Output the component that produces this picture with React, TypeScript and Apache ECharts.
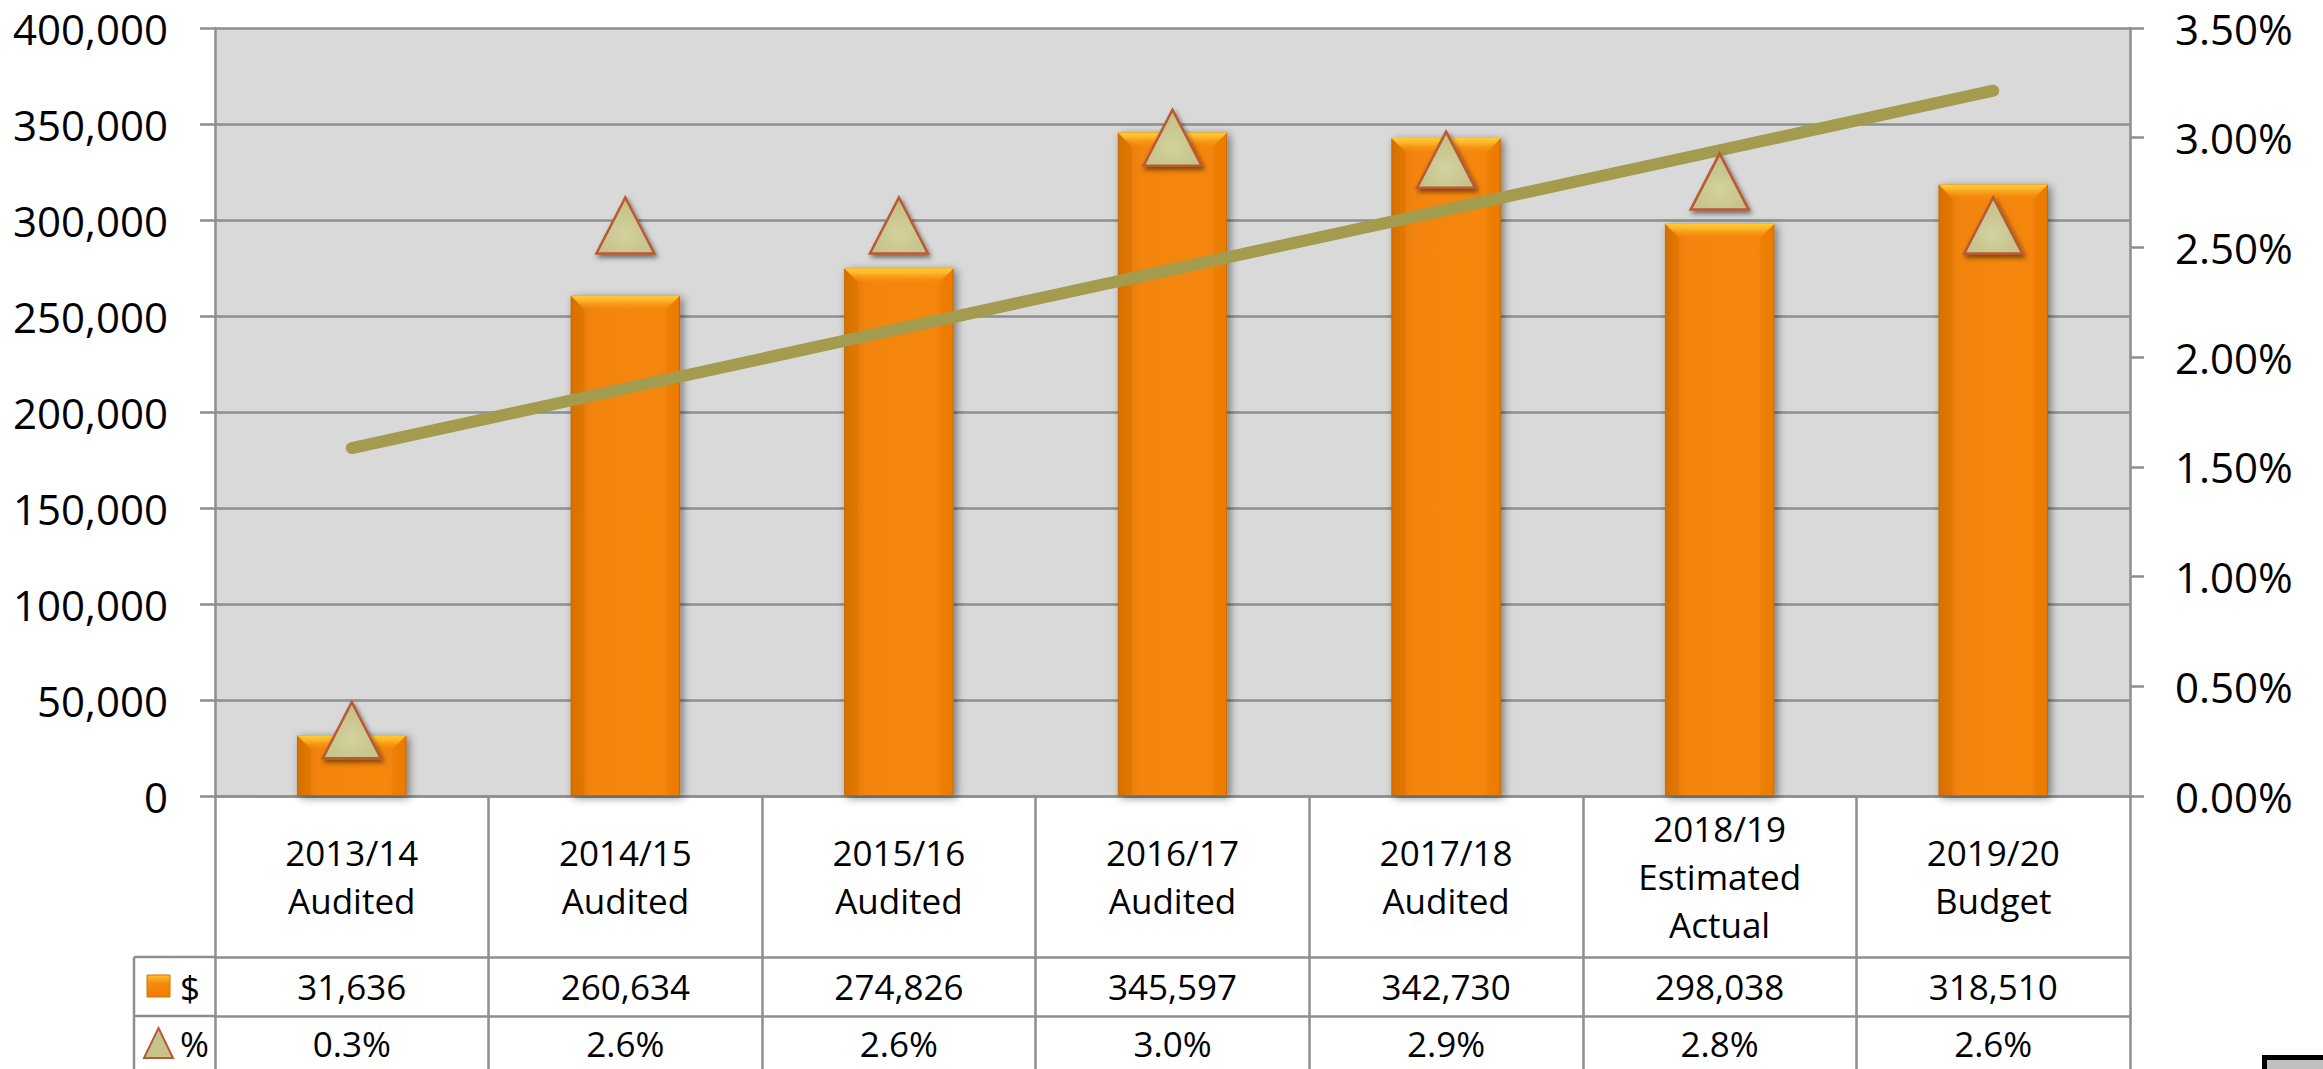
import React, { useEffect, useRef } from "react";
import * as echarts from "echarts";

// ---------- data ----------
const categories = [
  "2013/14\nAudited",
  "2014/15\nAudited",
  "2015/16\nAudited",
  "2016/17\nAudited",
  "2017/18\nAudited",
  "2018/19\nEstimated\nActual",
  "2019/20\nBudget",
];
const dollarValues = [31636, 260634, 274826, 345597, 342730, 298038, 318510];
const percentValues = [0.003, 0.026, 0.026, 0.03, 0.029, 0.028, 0.026];
const dollarAxis = { min: 0, max: 400000, interval: 50000 };
const percentAxis = { min: 0, max: 0.035, interval: 0.005 };
const legendLabels = ["$", "%"];

// linear (least squares) trend of the percent series, as an Excel trendline
function linearTrend(values: number[]): number[] {
  const n = values.length;
  const mx = (n - 1) / 2;
  const my = values.reduce((a, b) => a + b, 0) / n;
  let sxy = 0;
  let sxx = 0;
  values.forEach((v, i) => {
    sxy += (i - mx) * (v - my);
    sxx += (i - mx) * (i - mx);
  });
  const slope = sxy / sxx;
  return values.map((_, i) => my + slope * (i - mx));
}
const trendValues = linearTrend(percentValues);

// ---------- styles ----------
const FONT = "'Open Sans', sans-serif";
const GRID = "#8e8e8e";
const W = 2323;
const H = 1069;
const PLOT_LEFT = 215;
const PLOT_RIGHT = 2130;
const PLOT_TOP = 28;
const PLOT_BOTTOM = 796;
const ROW1 = 161; // category row height
const ROW2 = 59; // $ row height
const ROW3 = 60; // % row height

const fmtDollar = (v: number) => v.toLocaleString("en-US");
const fmtPct1 = (v: number) => (v * 100).toFixed(1) + "%";
const fmtPct2 = (v: number) => (v * 100).toFixed(2) + "%";

export default function App() {
  const ref = useRef<HTMLDivElement>(null);

  useEffect(() => {
    if (!ref.current) return;
    const chart = echarts.init(ref.current, undefined, { renderer: "svg" });

    const barGrad = new echarts.graphic.LinearGradient(1, 0, 0, 0, [
      { offset: 0, color: "#F07E00" },
      { offset: 0.2, color: "#F5870C" },
      { offset: 0.8, color: "#F38409" },
      { offset: 1, color: "#DE7503" },
    ]);
    const triGrad = new echarts.graphic.RadialGradient(0.5, 0.65, 0.6, [
      { offset: 0, color: "#D3D19E" },
      { offset: 1, color: "#C2BF86" },
    ]);

    const xBase = {
      type: "category" as const,
      data: categories,
      position: "bottom" as const,
      boundaryGap: true,
      axisLine: { show: true, onZero: false, lineStyle: { color: GRID, width: 2.5 } },
      axisTick: { show: true, interval: 0, inside: false, lineStyle: { color: GRID, width: 2.5 } },
      splitLine: { show: false },
    };

    const option: any = {
      animation: false,
      backgroundColor: "#ffffff",
      grid: {
        left: PLOT_LEFT,
        right: W - PLOT_RIGHT,
        top: PLOT_TOP,
        bottom: H - PLOT_BOTTOM,
        show: true,
        backgroundColor: "#d9d9d9",
        borderWidth: 0,
      },
      xAxis: [
        {
          ...xBase,
          axisTick: { ...xBase.axisTick, length: ROW1 },
          axisLabel: {
            interval: 0,
            margin: 80,
            verticalAlign: "middle",
            fontFamily: FONT,
            fontSize: 35,
            lineHeight: 48,
            color: "#000",
          },
        },
        {
          ...xBase,
          offset: ROW1,
          axisTick: { ...xBase.axisTick, length: ROW2 },
          axisLabel: {
            interval: 0,
            margin: 29,
            verticalAlign: "middle",
            fontFamily: FONT,
            fontSize: 35,
            color: "#000",
            formatter: (_: string, i: number) => fmtDollar(dollarValues[i]),
          },
        },
        {
          ...xBase,
          offset: ROW1 + ROW2,
          axisTick: { ...xBase.axisTick, length: ROW3 },
          axisLabel: {
            interval: 0,
            margin: 27,
            verticalAlign: "middle",
            fontFamily: FONT,
            fontSize: 35,
            color: "#000",
            formatter: (_: string, i: number) => fmtPct1(percentValues[i]),
          },
        },
      ],
      yAxis: [
        {
          type: "value",
          position: "left",
          min: dollarAxis.min,
          max: dollarAxis.max,
          interval: dollarAxis.interval,
          axisLine: { show: true, onZero: false, lineStyle: { color: GRID, width: 2.5 } },
          axisTick: { show: true, length: 15, lineStyle: { color: GRID, width: 2.5 } },
          axisLabel: {
            margin: 47,
            fontFamily: FONT,
            fontSize: 42,
            color: "#000",
            formatter: (v: number) => fmtDollar(v),
          },
          splitLine: { show: true, lineStyle: { color: GRID, width: 2.5 } },
        },
        {
          type: "value",
          position: "right",
          min: percentAxis.min,
          max: percentAxis.max,
          interval: percentAxis.interval,
          axisLine: { show: true, onZero: false, lineStyle: { color: GRID, width: 2.5 } },
          axisTick: { show: true, length: 14, lineStyle: { color: GRID, width: 2.5 } },
          axisLabel: {
            margin: 45,
            fontFamily: FONT,
            fontSize: 42,
            color: "#000",
            formatter: (v: number) => fmtPct2(v),
          },
          splitLine: { show: false },
        },
      ],
      series: [
        {
          name: legendLabels[0],
          type: "bar",
          xAxisIndex: 0,
          yAxisIndex: 0,
          data: dollarValues,
          barWidth: "40%",
          z: 2,
          itemStyle: {
            color: barGrad,
            borderColor: "#C96B00",
            borderWidth: 1,
            shadowColor: "rgba(0,0,0,0.45)",
            shadowBlur: 8,
            shadowOffsetX: 3,
            shadowOffsetY: 2,
          },
        },
        {
          name: "bevel",
          type: "custom",
          xAxisIndex: 0,
          yAxisIndex: 0,
          silent: true,
          z: 3,
          data: dollarValues.map((v, i) => [i, v]),
          encode: { x: 0, y: 1 },
          renderItem: (_params: any, api: any) => {
            const idx = api.value(0);
            const val = api.value(1);
            const top = api.coord([idx, val]);
            const bot = api.coord([idx, 0]);
            const bw = api.size([1, 0])[0] * 0.4;
            const l = top[0] - bw / 2;
            const r = top[0] + bw / 2;
            const t = top[1];
            const b = bot[1];
            const d = Math.min(14, (b - t) / 2);
            return {
              type: "group",
              children: [
                {
                  type: "polygon",
                  shape: { points: [[l, t], [l + d, t + d], [l + d, b], [l, b]] },
                  style: { fill: "rgba(180,85,0,0.16)" },
                },
                {
                  type: "polygon",
                  shape: { points: [[r, t], [r - d, t + d], [r - d, b], [r, b]] },
                  style: { fill: "rgba(180,85,0,0.08)" },
                },
                {
                  type: "polygon",
                  shape: { points: [[l, t], [r, t], [r - d, t + d], [l + d, t + d]] },
                  style: {
                    fill: new echarts.graphic.LinearGradient(0, 0, 0, 1, [
                      { offset: 0, color: "#FFCC33" },
                      { offset: 0.35, color: "#FDB52A" },
                      { offset: 1, color: "rgba(247,140,14,0.2)" },
                    ]),
                  },
                },
              ],
            };
          },
        },
        {
          name: "trend",
          type: "line",
          xAxisIndex: 0,
          yAxisIndex: 1,
          data: trendValues,
          symbol: "none",
          z: 4,
          lineStyle: { color: "#A39B4E", width: 12, cap: "round" },
        },
        {
          name: legendLabels[1],
          type: "scatter",
          xAxisIndex: 0,
          yAxisIndex: 1,
          data: percentValues,
          symbol: "triangle",
          symbolSize: [58, 56],
          z: 5,
          itemStyle: {
            color: triGrad,
            borderColor: "#B95A36",
            borderWidth: 2.5,
            opacity: 1,
            shadowColor: "rgba(0,0,0,0.5)",
            shadowBlur: 5,
            shadowOffsetX: 2,
            shadowOffsetY: 3,
          },
        },
      ],
      graphic: [
        // legend column of the data table
        { type: "line", shape: { x1: 134, y1: PLOT_BOTTOM + ROW1, x2: PLOT_LEFT, y2: PLOT_BOTTOM + ROW1 }, style: { stroke: GRID, lineWidth: 2.5 } },
        { type: "line", shape: { x1: 134, y1: PLOT_BOTTOM + ROW1 + ROW2, x2: PLOT_LEFT, y2: PLOT_BOTTOM + ROW1 + ROW2 }, style: { stroke: GRID, lineWidth: 2.5 } },
        { type: "line", shape: { x1: 134, y1: PLOT_BOTTOM + ROW1, x2: 134, y2: H + 10 }, style: { stroke: GRID, lineWidth: 2.5 } },
        {
          type: "rect",
          shape: { x: 147, y: 975, width: 23, height: 22 },
          style: {
            fill: new echarts.graphic.LinearGradient(0, 0, 0, 1, [
              { offset: 0, color: "#FFC02A" },
              { offset: 0.4, color: "#F58A0E" },
              { offset: 1, color: "#EE7C00" },
            ]),
            stroke: "#D87000",
            lineWidth: 1,
          },
        },
        { type: "text", style: { x: 180, y: 987, text: legendLabels[0], fontFamily: FONT, fontSize: 35, fill: "#000", verticalAlign: "middle" } },
        {
          type: "polygon",
          shape: { points: [[158.5, 1028], [173, 1058], [144, 1058]] },
          style: { fill: "#C7C38C", stroke: "#B95A36", lineWidth: 2 },
        },
        { type: "text", style: { x: 180, y: 1043, text: legendLabels[1], fontFamily: FONT, fontSize: 35, fill: "#000", verticalAlign: "middle" } },
        // corner artifact
        {
          type: "rect",
          shape: { x: 2264.5, y: 1057.5, width: 100, height: 50 },
          style: { fill: "#c0c0c0", stroke: "#000", lineWidth: 5 },
        },
      ],
    };

    chart.setOption(option);
    return () => chart.dispose();
  }, []);

  return (
    <div
      ref={ref}
      style={{ position: "absolute", left: 0, top: 0, width: W, height: H, background: "#fff" }}
    />
  );
}
